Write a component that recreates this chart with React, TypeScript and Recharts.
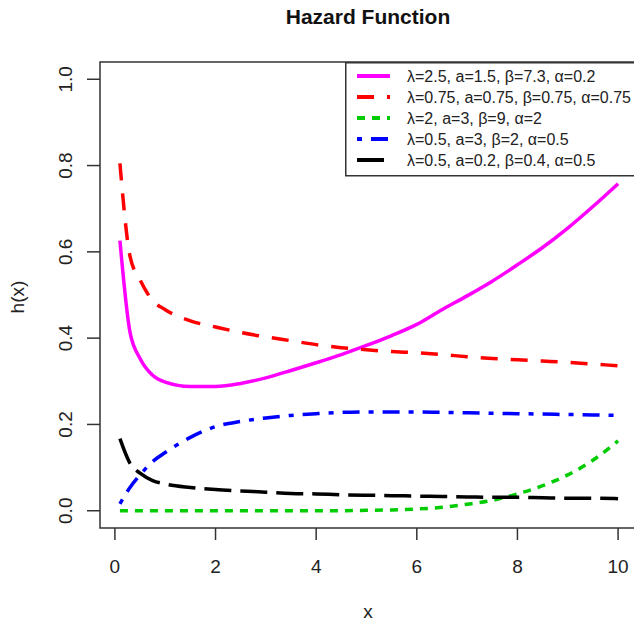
import React from 'react';
import { LineChart, Line, XAxis, YAxis, ReferenceArea, Legend } from 'recharts';

// x grid the curves were read at
const xs = [0.1, 0.3, 0.5, 0.75, 1, 1.5, 2, 2.5, 3, 3.5, 4, 4.5, 5, 5.5, 6, 6.5, 7, 7.5, 8, 8.5, 9, 9.5, 10];

const h1 = [0.626, 0.414, 0.353, 0.314, 0.298, 0.288, 0.288, 0.295, 0.308, 0.325, 0.343, 0.362, 0.383, 0.406, 0.432, 0.466, 0.498, 0.532, 0.57, 0.61, 0.655, 0.705, 0.758];
const h2 = [0.805, 0.59, 0.535, 0.487, 0.466, 0.44, 0.426, 0.413, 0.403, 0.394, 0.385, 0.378, 0.373, 0.369, 0.366, 0.362, 0.357, 0.353, 0.35, 0.347, 0.344, 0.34, 0.336];
const h3 = [0, 0, 0, 0, 0, 0, 0, 0, 0, 0, 0, 0, 0.001, 0.002, 0.004, 0.008, 0.015, 0.024, 0.039, 0.058, 0.083, 0.117, 0.162];
const h4 = [0.016, 0.054, 0.083, 0.114, 0.135, 0.17, 0.195, 0.207, 0.215, 0.221, 0.225, 0.228, 0.229, 0.229, 0.229, 0.228, 0.227, 0.226, 0.225, 0.224, 0.223, 0.222, 0.221];
const h5 = [0.167, 0.11, 0.087, 0.07, 0.062, 0.054, 0.049, 0.046, 0.043, 0.04, 0.039, 0.037, 0.036, 0.035, 0.034, 0.033, 0.032, 0.031, 0.031, 0.03, 0.029, 0.029, 0.028];

const labels = [
  'λ=2.5, a=1.5, β=7.3, α=0.2',
  'λ=0.75, a=0.75, β=0.75, α=0.75',
  'λ=2, a=3, β=9, α=2',
  'λ=0.5, a=3, β=2, α=0.5',
  'λ=0.5, a=0.2, β=0.4, α=0.5',
];

const xTicks = [0, 2, 4, 6, 8, 10];
const yTicks = [0, 0.2, 0.4, 0.6, 0.8, 1.0];

const keys = ['h1', 'h2', 'h3', 'h4', 'h5'];
const colors = ['#ff00ff', '#ff0000', '#00cc00', '#0000ff', '#000000'];
const dashes = ['', '17 13', '8 7', '5 9 17 9', '27 9'];

const data = xs.map((x, i) => ({ x, h1: h1[i], h2: h2[i], h3: h3[i], h4: h4[i], h5: h5[i] }));

const font = '"Liberation Sans", Arial, sans-serif';
const axisColor = '#333';

const YTick = (props: any) => {
  const { y, payload } = props;
  return (
    <text x={72} y={y} transform={`rotate(-90, 72, ${y})`} textAnchor="middle" fontSize={19} fill="#222" fontFamily={font}>
      {payload.value.toFixed(1)}
    </text>
  );
};

const XTick = (props: any) => {
  const { x, payload } = props;
  return (
    <text x={x} y={573} textAnchor="middle" fontSize={19} fill="#222" fontFamily={font}>
      {payload.value}
    </text>
  );
};

const LegendBox = () => (
  <svg width={300} height={115} style={{ display: 'block' }}>
    <rect x={0.75} y={0.75} width={298} height={113} fill="#fff" stroke={axisColor} strokeWidth={1.5} />
    {labels.map((t, i) => {
      const y = 14 + i * 21;
      return (
        <g key={t}>
          <line x1={12} x2={45} y1={y} y2={y} stroke={colors[i]} strokeWidth={4} strokeDasharray={dashes[i] || undefined} />
          <text x={62} y={y + 5.5} fontSize={16} fill="#222" fontFamily={font}>{t}</text>
        </g>
      );
    })}
  </svg>
);

export default function App() {
  return (
    <div style={{ position: 'absolute', left: 0, top: 0, width: 634, height: 626, overflow: 'hidden', background: '#fff', fontFamily: font }}>
      <svg width={634} height={40} style={{ position: 'absolute', left: 0, top: 0 }}>
        <text x={368} y={24} textAnchor="middle" fontSize={21} fontWeight="bold" fill="#111" fontFamily={font}>Hazard Function</text>
      </svg>
      <svg width={40} height={626} style={{ position: 'absolute', left: 0, top: 0 }}>
        <text x={24} y={297} transform="rotate(-90, 24, 297)" textAnchor="middle" fontSize={19} fill="#222" fontFamily={font}>h(x)</text>
      </svg>
      <svg width={634} height={40} style={{ position: 'absolute', left: 0, top: 590 }}>
        <text x={368} y={28} textAnchor="middle" fontSize={19} fill="#222" fontFamily={font}>x</text>
      </svg>
      <div style={{ position: 'absolute', left: 0, top: 0 }}>
        <LineChart width={640} height={626} data={data} margin={{ top: 62, right: 2, bottom: 38, left: 0 }}>
          <XAxis
            dataKey="x"
            type="number"
            domain={[-0.296, 10.396]}
            ticks={xTicks}
            allowDataOverflow
            axisLine={false}
            tickLine={{ stroke: axisColor, strokeWidth: 1.5 }}
            tickSize={12}
            tick={XTick}
            height={60}
          />
          <YAxis
            type="number"
            domain={[-0.04, 1.04]}
            ticks={yTicks}
            allowDataOverflow
            axisLine={false}
            tickLine={{ stroke: axisColor, strokeWidth: 1.5 }}
            tickSize={13}
            tick={YTick}
            width={100}
          />
          <ReferenceArea x1={-0.296} x2={10.396} y1={-0.04} y2={1.04} fill="none" stroke={axisColor} strokeWidth={1.5} />
          {keys.map((k, i) => (
            <Line
              key={k}
              dataKey={k}
              type="monotone"
              stroke={colors[i]}
              strokeWidth={3.5}
              strokeDasharray={dashes[i] || undefined}
              dot={false}
              activeDot={false}
              isAnimationActive={false}
            />
          ))}
          <Legend
            layout="vertical"
            align="center"
            verticalAlign="middle"
            content={LegendBox}
            wrapperStyle={{ position: 'absolute', left: 345, top: 62, width: 300, height: 115 }}
          />
        </LineChart>
      </div>
    </div>
  );
}
